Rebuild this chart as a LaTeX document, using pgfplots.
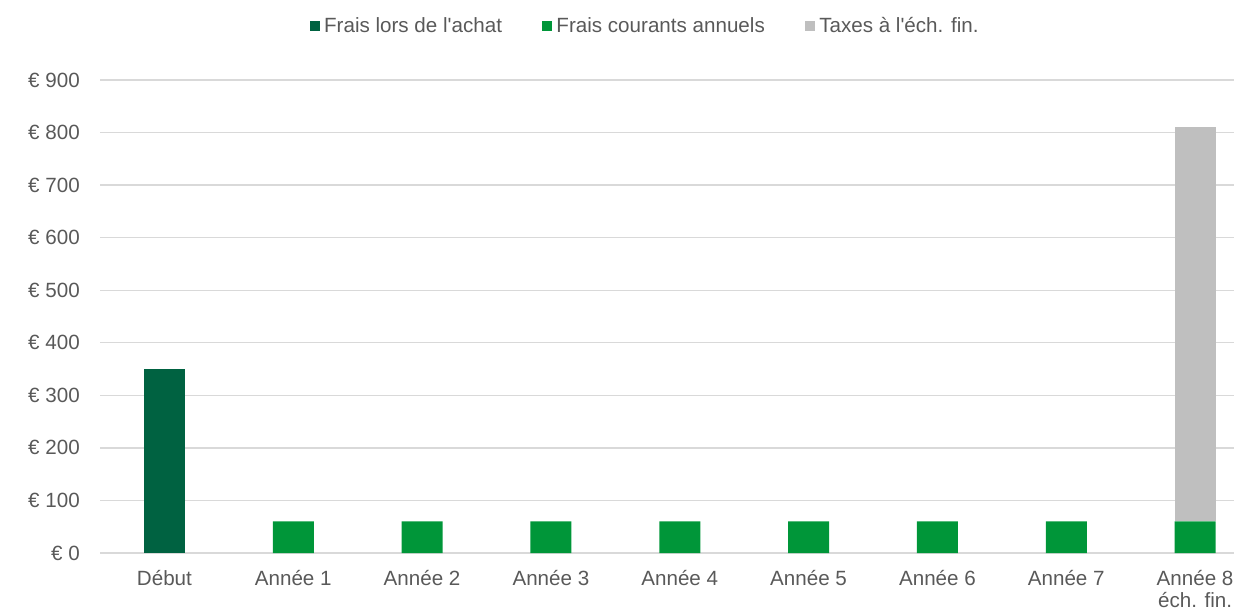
\documentclass[border=0pt]{standalone}
\usepackage{pgfplots}
\pgfplotsset{compat=1.18}
\usepackage{fontspec}
\setmainfont{Liberation Sans}
\definecolor{darkgreen}{RGB}{0,98,65}
\definecolor{midgreen}{RGB}{0,150,57}
\definecolor{taxgrey}{RGB}{191,191,191}
\definecolor{gridc}{RGB}{217,217,217}
\definecolor{txt}{RGB}{89,89,89}
\pgfplotsset{sqleg/.style={legend image code/.code={\fill[##1] (0pt,-2.6pt) rectangle (5.2pt,2.6pt);}}}
\begin{document}
\fontsize{10.3}{11}\selectfont
\begin{tikzpicture}
\clip (0,0) rectangle (617pt,305.5pt);
\begin{axis}[
  at={(50pt,29pt)}, anchor=south west,
  scale only axis, width=579.75pt, height=236.5pt,
  ybar stacked, bar width=20.5pt,
  xmin=-0.5, xmax=8.5, ymin=0, ymax=900,
  xtick={0,...,8},
  xticklabels={Début, Année 1, Année 2, Année 3, Année 4, Année 5, Année 6, Année 7, {Année 8\\éch. fin.}},
  xticklabel style={align=center, text=txt, font=\fontsize{10.3}{11}\selectfont, yshift=-5pt},
  ytick={0,100,...,900},
  yticklabels={€ 0, € 100, € 200, € 300, € 400, € 500, € 600, € 700, € 800, € 900},
  yticklabel style={text=txt, font=\fontsize{10.3}{11}\selectfont, xshift=-6.5pt},
  ymajorgrids, grid style={gridc, line width=0.7pt},
  axis line style={draw=none}, major tick length=0pt, tick style={draw=none},
  legend style={at={(0.471,1.114)}, anchor=center, draw=none, fill=none,
    legend columns=3, font=\fontsize{10.3}{11}\selectfont, text=txt,
    /tikz/every even column/.append style={column sep=18pt},
    inner sep=0pt},
]
\addplot[fill=darkgreen, draw=none, sqleg]
  coordinates {(0,350) (1,0) (2,0) (3,0) (4,0) (5,0) (6,0) (7,0) (8,0)};
\addplot[fill=midgreen, draw=none, sqleg]
  coordinates {(0,0) (1,60) (2,60) (3,60) (4,60) (5,60) (6,60) (7,60) (8,60)};
\addplot[fill=taxgrey, draw=none, sqleg]
  coordinates {(0,0) (1,0) (2,0) (3,0) (4,0) (5,0) (6,0) (7,0) (8,750)};
\legend{Frais lors de l\textquotesingle achat, Frais courants annuels, Taxes à l\textquotesingle éch. fin.}
\end{axis}
\end{tikzpicture}
\end{document}
